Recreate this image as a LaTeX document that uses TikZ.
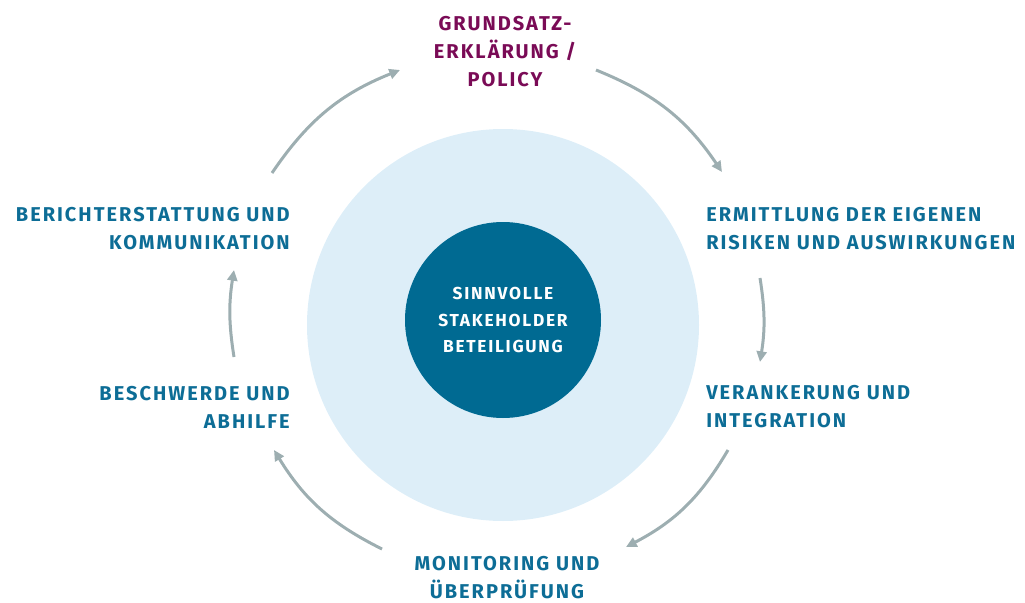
\documentclass[tikz,border=0pt]{standalone}
\usepackage{fontspec}
\setmainfont{Fira Sans}[LetterSpace=10]
\usetikzlibrary{arrows.meta}
\definecolor{stkteal}{HTML}{0D6D96}
\definecolor{stkdark}{HTML}{006A92}
\definecolor{stklight}{HTML}{DDEEF8}
\definecolor{stkpurple}{HTML}{7A0B56}
\definecolor{stkgrey}{HTML}{9DAEB1}
\begin{document}
\begin{tikzpicture}[x=0.75pt,y=-0.75pt,
  lbl/.style={font=\bfseries\fontsize{15}{21}\selectfont, text=stkteal, inner sep=0pt},
  cyc/.style={draw=stkgrey, line width=2.25pt, -{Triangle[length=8pt,width=7.5pt]}}]
\useasboundingbox (0,0) rectangle (1025,603);
% Circles
\node (outer) [circle, fill=stklight, minimum size=294pt, inner sep=0pt] at (503,325) {};
\node (core) [circle, fill=stkdark, minimum size=147pt, inner sep=0pt, align=center,
  text=white, font=\bfseries\fontsize{13}{20}\selectfont] at (503,320)
  {SINNVOLLE\\STAKEHOLDER\\BETEILIGUNG};
% Labels
\node (policy) [lbl, text=stkpurple, align=center] at (505,52) {GRUNDSATZ-\\ERKLÄRUNG /\\POLICY};
\node (risk) [lbl, align=left, anchor=west] at (706,229) {ERMITTLUNG DER EIGENEN\\RISIKEN UND AUSWIRKUNGEN};
\node (embed) [lbl, align=left, anchor=west] at (706,407) {VERANKERUNG UND\\INTEGRATION};
\node (monitor) [lbl, align=center] at (507,578) {MONITORING UND\\ÜBERPRÜFUNG};
\node (remedy) [lbl, align=right, anchor=east] at (290,407) {BESCHWERDE UND\\ABHILFE};
\node (report) [lbl, align=right, anchor=east] at (290,229) {BERICHTERSTATTUNG UND\\KOMMUNIKATION};
% Arrow ends
\coordinate (r1) at (272,173); \coordinate (p0) at (400,70);
\coordinate (p1) at (596,70);  \coordinate (k0) at (722,172);
\coordinate (k1) at (760,278); \coordinate (e0) at (760,362);
\coordinate (e1) at (728,450); \coordinate (m0) at (626,547);
\coordinate (m1) at (382,549); \coordinate (b0) at (274,450);
\coordinate (b1) at (234,357); \coordinate (r0) at (234,270);
% Arrows
\draw[cyc] (r1) to[bend left=17] (p0);
\draw[cyc] (p1) to[bend left=17] (k0);
\draw[cyc] (k1) to[bend left=9] (e0);
\draw[cyc] (e1) to[bend left=16] (m0);
\draw[cyc] (m1) to[bend left=16] (b0);
\draw[cyc] (b1) to[bend left=9] (r0);
\end{tikzpicture}
\end{document}
